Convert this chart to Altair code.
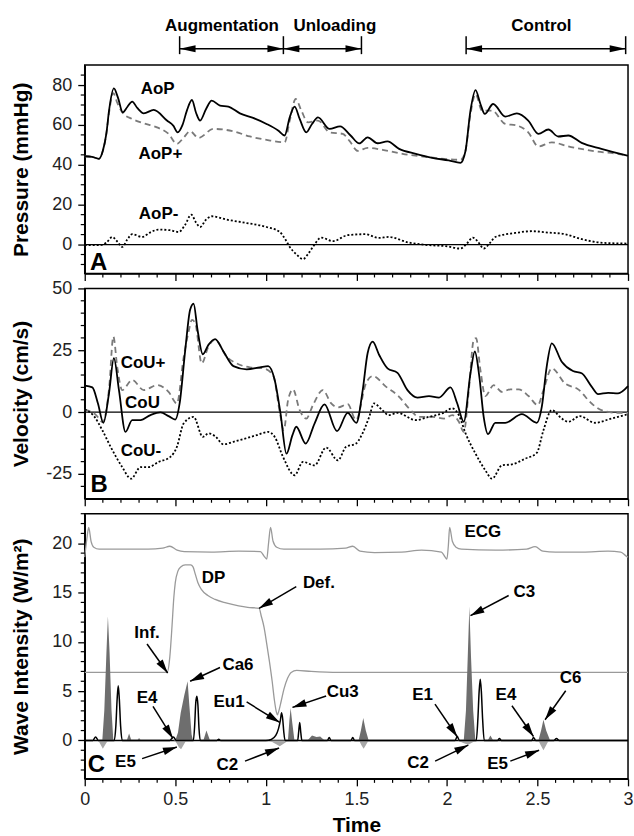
import math
import altair as alt
import pandas as pd

# ----------------------------- data -----------------------------
AOP_T = [0.0, 0.04, 0.079, 0.1, 0.12, 0.134, 0.161, 0.183, 0.21, 0.235, 0.262, 0.29, 0.326, 0.381, 0.454, 0.49, 0.513, 0.54, 0.564, 0.592, 0.615, 0.637, 0.67, 0.701, 0.747, 0.793, 0.857, 0.93, 1.004, 1.068, 1.104, 1.132, 1.159, 1.187, 1.223, 1.255, 1.288, 1.352, 1.41, 1.468, 1.516, 1.562, 1.617, 1.672, 1.736, 1.828, 1.919, 2.01, 2.075, 2.103, 2.13, 2.158, 2.185, 2.209, 2.255, 2.322, 2.386, 2.449, 2.505, 2.56, 2.615, 2.67, 2.744, 2.853, 2.991, 3.0]
AOP_V = [44.3, 44.0, 43.0, 47, 56, 67, 78.3, 73.8, 66.3, 69, 71.7, 68.5, 65.8, 67.5, 62.2, 59.5, 56.3, 60, 67.2, 72.5, 66, 62.2, 68, 72.2, 69.7, 69.2, 65.8, 63.5, 60.5, 57.2, 54.7, 63.8, 69.2, 63, 56.3, 60.5, 63.8, 58, 59.3, 54.7, 50.7, 53.8, 50.8, 51.7, 48, 45.5, 43.5, 42.2, 41, 47.2, 67.2, 77.5, 70.5, 65.5, 70.5, 64.2, 65.8, 62.2, 55.5, 57.7, 54.2, 54.7, 51, 48, 44.7, 44.5]

AOPP_T = [0.0, 0.04, 0.079, 0.1, 0.12, 0.134, 0.158, 0.18, 0.21, 0.262, 0.326, 0.399, 0.463, 0.509, 0.545, 0.582, 0.628, 0.711, 0.821, 0.912, 1.004, 1.104, 1.132, 1.165, 1.196, 1.233, 1.288, 1.352, 1.425, 1.462, 1.508, 1.562, 1.645, 1.755, 1.901, 2.075, 2.1, 2.13, 2.158, 2.194, 2.249, 2.322, 2.386, 2.449, 2.505, 2.579, 2.67, 2.817, 2.991, 3.0]
AOPP_V = [44.3, 44.0, 43.0, 47, 56, 66, 76, 71, 66, 63, 60.8, 58.8, 55.5, 50.5, 53.5, 56.8, 53.5, 58, 56.8, 54.2, 52.5, 51.3, 62.2, 73, 67.2, 61.3, 62.2, 56.3, 55.5, 52, 47, 48.5, 47.5, 45.5, 43.8, 42.5, 46, 65.5, 75.5, 67.2, 67.2, 60.5, 59.7, 56.3, 49.2, 51.3, 49.2, 46.8, 44.7, 44.5]

AOPM_T = [0.0, 0.088, 0.12, 0.152, 0.18, 0.207, 0.235, 0.262, 0.317, 0.36, 0.408, 0.47, 0.518, 0.555, 0.588, 0.615, 0.637, 0.67, 0.701, 0.784, 0.894, 1.004, 1.077, 1.105, 1.132, 1.17, 1.205, 1.235, 1.26, 1.306, 1.37, 1.452, 1.55, 1.624, 1.679, 1.789, 1.901, 1.993, 2.075, 2.11, 2.143, 2.175, 2.203, 2.235, 2.267, 2.377, 2.469, 2.56, 2.652, 2.744, 2.872, 3.0]
AOPM_V = [-0.3, -0.3, 1.0, 3.8, 1.5, -1.2, 2.5, 5.2, 3.8, 6.0, 7.5, 7.2, 6.3, 10, 15, 11, 8.8, 12.5, 14.2, 12.5, 10.8, 8.8, 6.3, 3, -1.2, -5, -7.3, -4.5, -1.2, 3.5, 1.7, 4.7, 5.2, 3.3, 3.8, 1, -0.3, -0.8, -2, 0.5, 3.5, 1, -2, 0.5, 3.8, 5.8, 6.7, 6.0, 5.2, 2.7, 0.8, 0.5]

COU_T = [0.0, 0.042, 0.073, 0.103, 0.134, 0.161, 0.189, 0.225, 0.262, 0.308, 0.363, 0.418, 0.463, 0.5, 0.524, 0.555, 0.582, 0.601, 0.623, 0.652, 0.683, 0.72, 0.766, 0.821, 0.894, 0.967, 1.013, 1.049, 1.081, 1.114, 1.147, 1.168, 1.22, 1.269, 1.324, 1.393, 1.452, 1.5, 1.535, 1.562, 1.59, 1.626, 1.672, 1.727, 1.782, 1.837, 1.901, 1.956, 2.02, 2.057, 2.093, 2.13, 2.154, 2.179, 2.203, 2.227, 2.267, 2.322, 2.414, 2.496, 2.524, 2.551, 2.579, 2.634, 2.696, 2.744, 2.799, 2.835, 2.89, 2.945, 3.0]
COU_V = [10.7, 10, 3.5, -4.3, 7.6, 21.8, 8.9, -8, -3.2, -3.2, -1.2, -0.1, -1.6, -3, 3.5, 25.1, 41.4, 43.8, 33.2, 23.4, 27.2, 29.5, 24.5, 18.6, 17.3, 18.1, 18.6, 13, -0.5, -16.8, -9.3, -5.9, -12.7, -4.6, 3.1, -7.7, -0.3, -4.3, 8.9, 23.8, 28.5, 23.1, 17.7, 15.9, 8.9, 5.9, 6.5, 5.9, 10, 3.5, -3.9, 15.7, 24.5, 14.3, -1.9, -8.9, -4.3, -4.3, -0.8, -4.3, 2.2, 18.4, 27.8, 20.4, 16.6, 15.7, 10.3, 7.3, 7.8, 7.6, 10.5]

COUP_T = [0.0, 0.06, 0.1, 0.135, 0.158, 0.18, 0.207, 0.262, 0.326, 0.4, 0.463, 0.509, 0.546, 0.575, 0.592, 0.61, 0.646, 0.683, 0.72, 0.784, 0.839, 0.912, 0.985, 1.04, 1.077, 1.099, 1.123, 1.15, 1.187, 1.223, 1.26, 1.315, 1.361, 1.398, 1.452, 1.498, 1.553, 1.59, 1.663, 1.736, 1.791, 1.846, 1.919, 1.984, 2.03, 2.066, 2.093, 2.121, 2.148, 2.161, 2.185, 2.212, 2.258, 2.304, 2.35, 2.396, 2.451, 2.502, 2.533, 2.579, 2.652, 2.725, 2.799, 2.853, 2.945, 3.0]
COUP_V = [1, -1, -4, 10, 30.5, 18, 8.9, 13, 8.9, 10.9, 8.2, 3.5, 22, 33, 37.3, 36, 19.7, 26.5, 29.2, 22.4, 19.7, 18.1, 17.7, 15, 0, -7.3, 4.9, 9.2, 0.8, -2.6, 2.8, 8.9, 3.5, 1.9, 3.2, -3.2, 11.6, 14.6, 10.3, 6.2, 1.5, -1.9, -1.9, -2.6, -1.2, -3.9, -8, 8.9, 29.2, 29.9, 17, 6.5, 10.9, 8.2, 9.2, 9.2, 6.5, 2.8, 8.9, 17.7, 11.6, 9.2, 3.5, 0.8, -0.3, -0.3]

COUM_T = [0.0, 0.051, 0.097, 0.143, 0.207, 0.256, 0.308, 0.353, 0.408, 0.473, 0.509, 0.546, 0.601, 0.652, 0.683, 0.72, 0.766, 0.821, 0.885, 0.949, 1.013, 1.049, 1.095, 1.159, 1.205, 1.269, 1.333, 1.398, 1.443, 1.498, 1.524, 1.571, 1.597, 1.643, 1.679, 1.727, 1.828, 1.901, 1.974, 2.029, 2.066, 2.103, 2.158, 2.212, 2.249, 2.304, 2.359, 2.432, 2.496, 2.533, 2.579, 2.634, 2.67, 2.734, 2.817, 2.908, 3.0]
COUM_V = [1.1, -1.6, -7.3, -14, -22.2, -26.9, -22.2, -22.2, -20.1, -18.1, -14, -4.6, -1.9, -10, -8.6, -9.7, -13, -12, -10.7, -9.3, -8, -10, -18.1, -25.5, -20.1, -21.5, -14.3, -19.5, -14, -12.7, -10, -1.9, 3.5, 0.8, -1.2, -0.3, -3.2, -1.9, -0.5, 1.5, -1.2, -8.6, -16.8, -23.5, -26.9, -21.5, -21.1, -18.8, -16.5, -7.3, 0.8, -2.6, -3.9, -1.6, -4.3, -2.6, -0.8]

ECG_T = [0.0, 0.012, 0.022, 0.035, 0.05, 0.08, 0.2, 0.35, 0.43, 0.47, 0.51, 0.55, 0.7, 0.85, 0.97, 0.99, 1.005, 1.015, 1.026, 1.04, 1.06, 1.1, 1.3, 1.44, 1.48, 1.52, 1.6, 1.75, 1.86, 1.97, 1.99, 2.0, 2.008, 2.015, 2.03, 2.05, 2.08, 2.27, 2.44, 2.487, 2.53, 2.6, 2.75, 2.89, 2.96, 2.99, 3.0]
ECG_V = [18.6, 20.5, 21.6, 20.2, 19.6, 19.4, 19.4, 19.4, 19.5, 19.7, 19.3, 19.15, 19.1, 19.2, 19.15, 18.7, 18.4, 20.0, 21.6, 20.2, 19.6, 19.4, 19.4, 19.5, 19.7, 19.2, 19.05, 19.1, 19.3, 19.1, 18.6, 18.4, 19.8, 21.6, 20.2, 19.6, 19.4, 19.3, 19.4, 19.65, 19.2, 19.1, 19.1, 19.2, 19.1, 18.7, 18.6]

DP_T = [0.0, 0.455, 0.47, 0.482, 0.492, 0.5, 0.515, 0.53, 0.555, 0.585, 0.598, 0.61, 0.625, 0.645, 0.68, 0.72, 0.78, 0.85, 0.9, 0.963, 0.975, 0.99, 1.005, 1.02, 1.035, 1.048, 1.058, 1.064, 1.072, 1.085, 1.1, 1.12, 1.14, 1.17, 1.25, 1.4, 3.0]
DP_V = [6.9, 6.9, 8.5, 11.6, 14.5, 16.0, 17.2, 17.6, 17.8, 17.8, 17.6, 16.9, 16.0, 15.3, 14.7, 14.3, 13.95, 13.65, 13.5, 13.4, 12.6, 11.5, 9.8, 8.0, 6.0, 4.0, 2.9, 2.6, 3.0, 4.0, 5.2, 6.3, 6.9, 7.1, 7.0, 6.9, 6.9]

WI_FWD_T = [0.0, 0.097, 0.108, 0.12, 0.128, 0.137, 0.148, 0.158, 0.232, 0.245, 0.258, 0.29, 0.3, 0.31, 0.5, 0.515, 0.53, 0.55, 0.568, 0.578, 0.59, 0.598, 0.655, 0.672, 0.692, 1.122, 1.13, 1.137, 1.146, 1.158, 1.23, 1.255, 1.28, 1.3, 1.325, 1.512, 1.525, 1.538, 1.552, 1.568, 2.093, 2.105, 2.115, 2.124, 2.133, 2.145, 2.157, 2.225, 2.24, 2.256, 2.505, 2.52, 2.533, 2.548, 2.57, 3.0]
WI_FWD_V = [0, 0, 3, 9, 12.6, 9, 3, 0, 0, 0.7, 0, 0, 0.25, 0, 0, 0.8, 2.8, 4.6, 6.0, 3.5, 0.6, 0, 0, 1.0, 0, 0, 2.0, 3.3, 1.8, 0, 0, 0.5, 0.35, 0.4, 0, 0, 1.0, 2.27, 1.0, 0, 0, 3, 8.5, 13.6, 8.5, 3, 0, 0, 0.5, 0, 0, 1.0, 2.1, 1.0, 0, 0]

WI_BWD_T = [0.0, 0.075, 0.088, 0.1, 0.113, 0.128, 0.49, 0.505, 0.52, 0.532, 0.545, 0.56, 1.02, 1.05, 1.077, 1.1, 1.125, 1.515, 1.528, 1.54, 1.552, 1.567, 2.06, 2.09, 2.118, 2.14, 2.16, 2.505, 2.518, 2.533, 2.548, 2.562, 3.0]
WI_BWD_V = [0, 0, -0.45, -0.85, -0.45, 0, 0, -0.2, -0.7, -0.9, -0.5, 0, 0, -0.3, -0.6, -0.3, 0, 0, -0.5, -0.85, -0.5, 0, 0, -0.25, -0.45, -0.2, 0, 0, -0.5, -1.0, -0.5, 0, 0]

WI_U_T = [0.0, 0.045, 0.06, 0.075, 0.163, 0.172, 0.179, 0.185, 0.191, 0.198, 0.207, 0.47, 0.49, 0.505, 0.6, 0.607, 0.613, 0.619, 0.625, 0.631, 0.638, 0.73, 0.74, 0.75, 1.0, 1.03, 1.055, 1.07, 1.08, 1.087, 1.093, 1.099, 1.106, 1.176, 1.181, 1.187, 1.193, 1.199, 1.34, 1.35, 1.36, 1.47, 1.48, 1.49, 2.045, 2.057, 2.069, 2.162, 2.171, 2.178, 2.184, 2.19, 2.197, 2.206, 2.28, 2.29, 2.3, 2.468, 2.478, 2.49, 2.59, 2.605, 2.62, 3.0]
WI_U_V = [0, 0, 0.35, 0, 0, 1.5, 4.2, 5.55, 4.2, 1.5, 0, 0, 0.35, 0, 0, 1.5, 3.8, 4.47, 3.6, 1.2, 0, 0, 0.12, 0, 0, 0.1, 0.5, 1.2, 2.0, 2.8, 2.2, 0.9, 0, 0, 0.8, 1.83, 0.8, 0, 0, 0.3, 0, 0, 0.3, 0, 0, 0.4, 0, 0, 2.2, 5.0, 6.2, 5.0, 2.2, 0, 0, 0.2, 0, 0, 0.3, 0, 0, 0.2, 0, 0]

# phases shown above the top panel
PHASES = ["Augmentation", "Unloading", "Control"]
PHASE_START = [0.524, 1.097, 2.106]
PHASE_END = [1.097, 1.528, 2.987]
PHASE_LABEL_T = [0.758, 1.381, 2.522]

# text annotations (label, t, value)
A_LABELS = ["AoP", "AoP+", "AoP-", "A"]
A_LAB_T = [0.403, 0.418, 0.408, 0.077]
A_LAB_V = [78, 45.2, 15.2, -9.3]
B_LABELS = ["CoU+", "CoU", "CoU-", "B"]
B_LAB_T = [0.322, 0.319, 0.31, 0.079]
B_LAB_V = [19.9, 3.5, -15.8, -29.6]
C_LABELS = ["ECG", "DP", "Def.", "Inf.", "Ca6", "E4", "Eu1", "Cu3", "C3", "E1", "E4", "C6", "E5", "C2", "C2", "E5", "C"]
C_LAB_T = [2.198, 0.711, 1.293, 0.344, 0.846, 0.344, 0.797, 1.425, 2.427, 1.866, 2.326, 2.683, 0.225, 0.788, 1.841, 2.28, 0.064]
C_LAB_V = [21.1, 16.5, 16.0, 10.9, 7.7, 4.3, 3.9, 4.9, 15.1, 4.6, 4.6, 6.3, -2.16, -2.53, -2.26, -2.4, -2.46]

# annotation arrows in panel C: start (t0, v0) -> tip (t1, v1)
ARR_T0 = [0.344, 1.168, 0.747, 0.377, 0.894, 1.333, 2.341, 1.934, 2.359, 2.656, 0.317, 0.885, 1.935, 2.35]
ARR_V0 = [9.78, 15.6, 7.4, 3.45, 3.9, 4.5, 14.7, 3.69, 3.52, 5.04, -1.85, -2.1, -2.1, -2.1]
ARR_T1 = [0.458, 0.963, 0.582, 0.487, 1.077, 1.147, 2.13, 2.057, 2.478, 2.542, 0.509, 1.073, 2.118, 2.509]
ARR_V1 = [6.84, 13.4, 6.0, 0.2, 1.83, 3.35, 12.66, 0.37, 0.4, 2.1, -0.67, -0.77, -0.47, -1.0]

X_MAJOR = [0, 0.5, 1, 1.5, 2, 2.5, 3]
X_MINOR = [round(i * 0.1, 1) for i in range(31) if i % 5]
YA_MAJOR = [0, 20, 40, 60, 80]
YA_MINOR = [v for v in range(-10, 90, 5) if v % 20]
YB_MAJOR = [-25, 0, 25, 50]
YB_MINOR = [v for v in range(-30, 50, 5) if v % 25]
YC_MAJOR = [0, 5, 10, 15, 20]
YC_MINOR = [v for v in range(-3, 24) if v % 5]

# ----------------------------- layout / style -----------------------------
FONT = "Liberation Sans"
W = 545
HA, HB, HC = 209, 211, 266
YA_DOM = [-14.5, 90]
YB_DOM = [-35, 50]
YC_DOM = [-3.9, 23.0]
TITLE_X = -53

HEAD_HDR = "M0,0L-0.45,2L0.45,2Z"
HEAD_ANN = "M0,0L-0.55,2L0.55,2Z"


def xenc(last, field="t"):
    ax = alt.Axis(values=X_MAJOR, labels=last, labelExpr="'' + datum.value",
                  labelFlush=False, labelOverlap=False,
                  tickSize=7, labelPadding=5, titlePadding=6)
    return alt.X(f"{field}:Q", scale=alt.Scale(domain=[0, 3], nice=False, zero=False),
                 axis=ax, title="Time" if last else None)


def yenc(dom, major, title, h, field="v"):
    ax = alt.Axis(values=major, labelExpr="'' + datum.value", tickSize=7,
                  labelFlush=False, labelOverlap=False,
                  labelPadding=6, titleX=TITLE_X, titleY=h / 2)
    return alt.Y(f"{field}:Q", scale=alt.Scale(domain=dom, nice=False, zero=False),
                 axis=ax, title=title)


def line(t, v, xe, ye, **mk):
    return alt.Chart(pd.DataFrame({"t": t, "v": v})).mark_line(
        interpolate="monotone", **mk).encode(x=xe, y=ye)


def zero_rule(ye, width=1.3):
    return alt.Chart(pd.DataFrame({"v": [0]})).mark_rule(
        color="black", strokeWidth=width).encode(y=ye)


def minor_ticks(xe, ye, yvals, h):
    my = alt.Chart(pd.DataFrame({"v": yvals})).mark_rule(color="black", strokeWidth=1.2).encode(
        y=ye, x=alt.value(0), x2=alt.value(-4))
    mx = alt.Chart(pd.DataFrame({"t": X_MINOR})).mark_rule(color="black", strokeWidth=1.2).encode(
        x=xe, y=alt.value(h), y2=alt.value(h + 4))
    return [my, mx]


def labels(lab, t, v, xe, ye, letter_size=24):
    df = pd.DataFrame({"t": t, "v": v, "label": lab})
    df["size"] = [letter_size if len(s) == 1 else 17 for s in lab]
    return alt.Chart(df).mark_text(font=FONT, fontWeight="bold", color="black",
                                   align="center", baseline="middle").encode(
        x=xe, y=ye, text="label:N", size=alt.Size("size:Q", scale=None))


# ---------------- panel A ----------------
xa = xenc(False)
ya = yenc(YA_DOM, YA_MAJOR, "Pressure (mmHg)", HA)

hdr_text = alt.Chart(pd.DataFrame({"t": PHASE_LABEL_T, "v": [109.5] * 3, "label": PHASES})).mark_text(
    font=FONT, fontWeight="bold", fontSize=17, color="black", baseline="middle").encode(
    x=xa, y=ya, text="label:N")
bar_t = sorted(set(PHASE_START + PHASE_END))
hdr_bars = alt.Chart(pd.DataFrame({"t": bar_t, "v": [95.5] * len(bar_t), "v2": [104.5] * len(bar_t)})).mark_rule(
    color="black", strokeWidth=1.5).encode(x=xa, y=ya, y2="v2:Q")
hdr_shaft = alt.Chart(pd.DataFrame({"t": PHASE_START, "t2": PHASE_END, "v": [98.2] * 3})).mark_rule(
    color="black", strokeWidth=1.5).encode(x=xa, x2="t2:Q", y=ya)
hdr_heads = alt.Chart(pd.DataFrame({"t": PHASE_START + PHASE_END, "v": [98.2] * 6,
                                    "ang": [270] * 3 + [90] * 3})).mark_point(
    shape=HEAD_HDR, filled=True, size=256, color="black", opacity=1, strokeWidth=0).encode(
    x=xa, y=ya, angle=alt.Angle("ang:Q", scale=None))

panel_a = alt.layer(
    zero_rule(ya),
    line(AOPP_T, AOPP_V, xa, ya, color="#7a7a7a", strokeWidth=1.8, strokeDash=[6, 4]),
    line(AOPM_T, AOPM_V, xa, ya, color="black", strokeWidth=1.8, strokeDash=[2, 2]),
    line(AOP_T, AOP_V, xa, ya, color="black", strokeWidth=1.8),
    labels(A_LABELS, A_LAB_T, A_LAB_V, xa, ya),
    *minor_ticks(xa, ya, YA_MINOR, HA),
    hdr_text, hdr_bars, hdr_shaft, hdr_heads,
).properties(width=W, height=HA)

# ---------------- panel B ----------------
xb = xenc(False)
yb = yenc(YB_DOM, YB_MAJOR, "Velocity (cm/s)", HB)
panel_b = alt.layer(
    zero_rule(yb),
    line(COUP_T, COUP_V, xb, yb, color="#7a7a7a", strokeWidth=1.8, strokeDash=[6, 4]),
    line(COUM_T, COUM_V, xb, yb, color="black", strokeWidth=1.8, strokeDash=[2, 2]),
    line(COU_T, COU_V, xb, yb, color="black", strokeWidth=1.8),
    labels(B_LABELS, B_LAB_T, B_LAB_V, xb, yb),
    *minor_ticks(xb, yb, YB_MINOR, HB),
).properties(width=W, height=HB)

# ---------------- panel C ----------------
xc = xenc(True)
yc = yenc(YC_DOM, YC_MAJOR, "Wave Intensity (W/m²)", HC)

px_t = W / 3.0
px_v = HC / (YC_DOM[1] - YC_DOM[0])
angs = []
for a0, b0, a1, b1 in zip(ARR_T0, ARR_V0, ARR_T1, ARR_V1):
    ang = math.degrees(math.atan2((a1 - a0) * px_t, (b1 - b0) * px_v)) % 360
    angs.append(ang)
arr_df = pd.DataFrame({"t": ARR_T0, "v": ARR_V0, "t2": ARR_T1, "v2": ARR_V1})
head_df = pd.DataFrame({"t": ARR_T1, "v": ARR_V1, "ang": angs})

fwd = alt.Chart(pd.DataFrame({"t": WI_FWD_T, "v": WI_FWD_V})).mark_area(
    color="#6e6e6e", opacity=1, interpolate="linear").encode(x=xc, y=yc, y2=alt.datum(0))
bwd = alt.Chart(pd.DataFrame({"t": WI_BWD_T, "v": WI_BWD_V})).mark_area(
    color="#a8a8a8", opacity=1, interpolate="linear").encode(x=xc, y=yc, y2=alt.datum(0))

panel_c = alt.layer(
    line(ECG_T, ECG_V, xc, yc, color="#9a9a9a", strokeWidth=1.3),
    line(DP_T, DP_V, xc, yc, color="#9a9a9a", strokeWidth=1.3),
    zero_rule(yc, 1.5),
    fwd, bwd,
    line(WI_U_T, WI_U_V, xc, yc, color="black", strokeWidth=1.5),
    alt.Chart(arr_df).mark_rule(color="black", strokeWidth=1.5).encode(x=xc, y=yc, x2="t2:Q", y2="v2:Q"),
    alt.Chart(head_df).mark_point(shape=HEAD_ANN, filled=True, size=196, color="black",
                                  opacity=1, strokeWidth=0).encode(
        x=xc, y=yc, angle=alt.Angle("ang:Q", scale=None)),
    labels(C_LABELS, C_LAB_T, C_LAB_V, xc, yc),
    *minor_ticks(xc, yc, YC_MINOR, HC),
).properties(width=W, height=HC)

chart = alt.vconcat(panel_a, panel_b, panel_c, spacing=15, bounds="flush").properties(
    padding={"left": 10, "top": 15, "right": 0, "bottom": 0}
).configure_view(stroke="black", strokeWidth=1.5).configure_axis(
    domainColor="black", domainWidth=1.5, tickColor="black", tickWidth=1.3,
    labelFont=FONT, labelFontSize=18, labelColor="#222", titleFont=FONT,
    titleFontSize=21, titleFontWeight="bold", titleColor="black", grid=False)

chart.save("out.html", embed_options={"renderer": "svg", "actions": False})
